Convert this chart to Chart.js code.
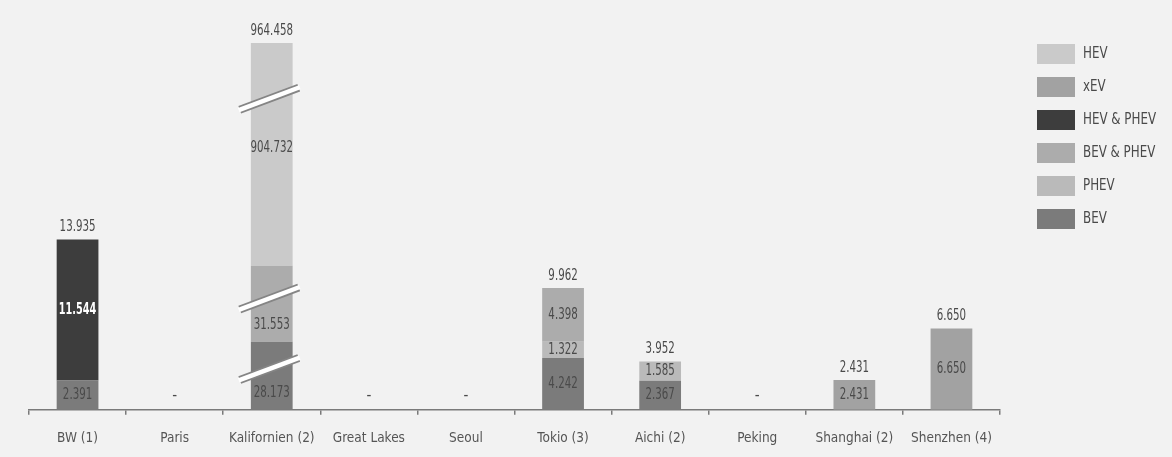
<!DOCTYPE html>
<html lang="de">
<head>
<meta charset="utf-8">
<title>Fahrzeugbestand nach Region</title>
<script src="https://cdn.jsdelivr.net/npm/chart.js@4"></script>
<style>
  html, body { margin: 0; padding: 0; background: #f2f2f2; }
  #wrap { width: 1172px; height: 457px; }
</style>
</head>
<body>
<div id="wrap"><canvas id="regionChart" width="1172" height="457"></canvas></div>
<script>
// Regions on the x axis
const categories = ['BW (1)', 'Paris', 'Kalifornien (2)', 'Great Lakes', 'Seoul', 'Tokio (3)', 'Aichi (2)', 'Peking', 'Shanghai (2)', 'Shenzhen (4)'];

// Vehicle counts per drive type (null = no data)
const bev     = [2391, null, 28173, null, null, 4242, 2367, null, null, null];
const phev    = [null, null, null,  null, null, 1322, 1585, null, null, null];
const bevPhev = [null, null, 31553, null, null, 4398, null, null, null, null];
const hevPhev = [11544, null, null, null, null, null, null, null, null, null];
const xev     = [null, null, null,  null, null, null, null, null, 2431, 6650];
const hev     = [null, null, 904732, null, null, null, null, null, null, null];

// Kalifornien is too tall for the common scale, it gets its own broken axis
const brokenIndex = 2;

const FONT = "'Liberation Sans Narrow', 'DejaVu Sans Condensed', 'Roboto Condensed', sans-serif";
const TEXT = '#4a4a4a';

// series in stacking order (bottom first); legend uses its own order below
const series = [
    { label: 'BEV',        data: bev,     color: '#7b7b7b' },
    { label: 'PHEV',       data: phev,    color: '#bababa' },
    { label: 'BEV & PHEV', data: bevPhev, color: '#acacac' },
    { label: 'HEV & PHEV', data: hevPhev, color: '#3d3d3d', light: true },
    { label: 'xEV',        data: xev,     color: '#a2a2a2' },
    { label: 'HEV',        data: hev,     color: '#cacaca' }
];
const legendOrder = ['HEV', 'xEV', 'HEV & PHEV', 'BEV & PHEV', 'PHEV', 'BEV'];

// totals above the bars = sum of the stacked segments
const totals = categories.map((_, i) => series.reduce((s, d) => s + (d.data[i] || 0), 0));

// lower part of the broken bar (BEV + BEV & PHEV) takes this share of the height
const breakAt = bev[brokenIndex] + bevPhev[brokenIndex];
const breakFrac = 0.393;

// linear scale with a kink: values below breakAt get breakFrac of the axis
class BrokenScale extends Chart.LinearScale {
    getPixelForValue(value) {
        const min = this.min, max = this.max;
        let d;
        if (value <= breakAt) {
            d = (value - min) / (breakAt - min) * breakFrac;
        } else {
            d = breakFrac + (value - breakAt) / (max - breakAt) * (1 - breakFrac);
        }
        return this.getPixelForDecimal(d);
    }
}
BrokenScale.id = 'broken';
BrokenScale.defaults = Chart.LinearScale.defaults;
Chart.register(BrokenScale);

const fmt = v => v.toLocaleString('de-DE');

// build datasets: normal categories on y, Kalifornien on y2
const datasets = [];
series.forEach(s => {
    datasets.push({
        label: s.label,
        data: s.data.map((v, i) => i === brokenIndex ? null : v),
        backgroundColor: s.color,
        yAxisID: 'y',
        stack: 'all',
        light: !!s.light
    });
});
series.forEach(s => {
    if (s.data[brokenIndex] == null) return;
    datasets.push({
        label: s.label,
        data: s.data.map((v, i) => i === brokenIndex ? v : null),
        backgroundColor: s.color,
        yAxisID: 'y2',
        stack: 'all',
        broken: true
    });
});

// where the segment label and the break mark sit inside each broken segment
const brokenLabelPos = { 'BEV': 0.25, 'BEV & PHEV': 0.22, 'HEV': 0.53 };
const brokenMarkPos  = { 'BEV': 0.60, 'BEV & PHEV': 0.57, 'HEV': 0.75 };

// narrow text: squeeze horizontally around the anchor point
function narrowText(ctx, str, x, y, squeeze) {
    ctx.save();
    ctx.translate(x, y);
    ctx.scale(squeeze, 1);
    ctx.fillText(str, 0, 0);
    ctx.restore();
}

const labelPlugin = {
    id: 'barLabels',
    afterDatasetsDraw(chart) {
        const ctx = chart.ctx;
        const tops = categories.map(() => null);
        ctx.save();
        ctx.textAlign = 'center';
        ctx.textBaseline = 'middle';

        chart.data.datasets.forEach((ds, di) => {
            const meta = chart.getDatasetMeta(di);
            meta.data.forEach((bar, i) => {
                const v = ds.data[i];
                if (v == null) return;
                const top = Math.min(bar.y, bar.base);
                const bottom = Math.max(bar.y, bar.base);
                tops[i] = tops[i] == null ? top : Math.min(tops[i], top);

                let ly = (top + bottom) / 2;
                if (ds.broken) {
                    // double slash across the bar
                    const my = bottom - (bottom - top) * brokenMarkPos[ds.label];
                    const x0 = bar.x - 32, x1 = bar.x + 27;
                    ctx.lineCap = 'butt';
                    ctx.strokeStyle = '#858585';
                    ctx.lineWidth = 8;
                    ctx.beginPath(); ctx.moveTo(x0, my + 11); ctx.lineTo(x1, my - 11); ctx.stroke();
                    ctx.strokeStyle = '#ffffff';
                    ctx.lineWidth = 4.5;
                    ctx.beginPath(); ctx.moveTo(x0 - 1, my + 11.4); ctx.lineTo(x1 + 1, my - 11.4); ctx.stroke();
                    ly = bottom - (bottom - top) * brokenLabelPos[ds.label];
                }
                ctx.fillStyle = ds.light ? '#ffffff' : TEXT;
                ctx.font = (ds.light ? 'bold ' : '') + '15px ' + FONT;
                narrowText(ctx, fmt(v), bar.x, ly, ds.light ? 0.72 : 0.76);
            });
        });

        // totals on top, a dash where there is nothing
        const xScale = chart.scales.x;
        const baseY = chart.chartArea.bottom;
        ctx.font = '15px ' + FONT;
        ctx.fillStyle = TEXT;
        totals.forEach((t, i) => {
            const x = xScale.getPixelForValue(i);
            if (!t) {
                ctx.fillText('-', x, baseY - 14);
            } else {
                narrowText(ctx, fmt(t), x, tops[i] - 12, 0.76);
            }
        });
        ctx.restore();
    }
};

// legend column on the right
const legendPlugin = {
    id: 'sideLegend',
    afterDraw(chart) {
        const ctx = chart.ctx;
        ctx.save();
        ctx.font = '15px ' + FONT;
        ctx.textBaseline = 'middle';
        ctx.textAlign = 'left';
        legendOrder.forEach((name, k) => {
            const s = series.find(d => d.label === name);
            const y = 44 + k * 33;
            ctx.fillStyle = s.color;
            ctx.fillRect(1037, y, 38, 20);
            ctx.fillStyle = TEXT;
            narrowText(ctx, name, 1083, y + 10, 0.88);
        });
        ctx.restore();
    }
};

const chart = new Chart(document.getElementById('regionChart'), {
    type: 'bar',
    data: { labels: categories, datasets: datasets },
    options: {
        responsive: false,
        animation: false,
        categoryPercentage: 1,
        barPercentage: 0.43,
        layout: { padding: { left: 29, right: 172, top: 43, bottom: -6 } },
        plugins: {
            legend: { display: false },
            tooltip: { enabled: false }
        },
        scales: {
            x: {
                stacked: true,
                border: { display: true, color: '#7a7a7a', width: 1.5 },
                grid: { display: true, offset: true, drawOnChartArea: false, drawTicks: true, tickLength: 5, color: '#7a7a7a', lineWidth: 1.5 },
                ticks: { color: '#555555', padding: 16, font: { family: FONT, size: 13.5 } }
            },
            y: {
                stacked: true,
                display: false,
                min: 0,
                max: 30000
            },
            y2: {
                type: 'broken',
                stacked: true,
                display: false,
                min: 0,
                max: totals[brokenIndex]
            }
        }
    },
    plugins: [labelPlugin, legendPlugin]
});
</script>
</body>
</html>
